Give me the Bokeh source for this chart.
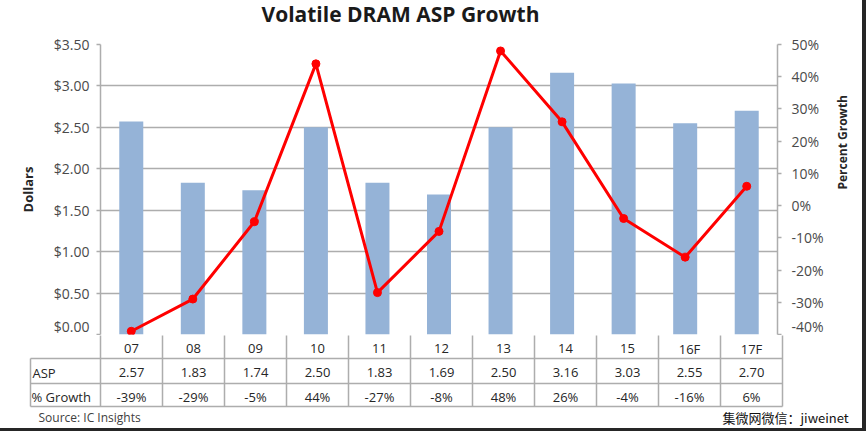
import math
from bokeh.plotting import figure
from bokeh.models import (Range1d, LinearAxis, NumeralTickFormatter, PrintfTickFormatter,
                          FixedTicker, ColumnDataSource, FactorRange)
from bokeh.layouts import column
from bokeh.core.properties import value
from bokeh.embed import file_html
from bokeh.resources import INLINE

# ---------------- data ----------------
title_text = "Volatile DRAM ASP Growth"
years = ["07", "08", "09", "10", "11", "12", "13", "14", "15", "16F", "17F"]
asp = [2.57, 1.83, 1.74, 2.50, 1.83, 1.69, 2.50, 3.16, 3.03, 2.55, 2.70]
growth = [-39, -29, -5, 44, -27, -8, 48, 26, -4, -16, 6]
dollar_ticks = [0.0, 0.5, 1.0, 1.5, 2.0, 2.5, 3.0, 3.5]
pct_ticks = [-40, -30, -20, -10, 0, 10, 20, 30, 40, 50]
row_labels = ["ASP", "% Growth"]

# ---------------- layout constants ----------------
FONT = "Open Sans"
W = 862
HT = 30           # title strip
HA = 335 - HT     # chart
HB = 93           # data table
FL, FR, FT, FB = 100, 782, 44, 334   # frame edges in page pixels
cw = (FR - FL) / len(years)
BAR = "#95b3d7"
RED = "#ff0000"
GRID = "#adadad"
TXT = "#262626"
TICK = "#4a4a4a"


def fx(px):
    return (px - FL) / cw


def strip(height):
    p = figure(x_range=Range1d(fx(0), fx(W)), y_range=Range1d(height, 0),
               width=W, height=height, output_backend="svg", toolbar_location=None,
               x_axis_location=None, y_axis_location=None, min_border=0)
    p.frame_align = False
    p.outline_line_color = None
    p.grid.visible = False
    return p


# ---------------- title strip ----------------
pT = strip(HT)
pT.text(x=[fx(400)], y=[13], text=[title_text], text_font=value(FONT),
        text_font_size="21px", text_font_style="bold", text_color="#1a1a1a",
        text_align="center", text_baseline="middle")

# ---------------- chart ----------------
pA = figure(x_range=FactorRange(*years, range_padding=0), y_range=Range1d(0, 3.5),
            width=W, height=HA, output_backend="svg", toolbar_location=None,
            x_axis_location=None, min_border_left=FL, min_border_right=W - FR,
            min_border_top=FT - HT, min_border_bottom=HT + HA - FB)
pA.frame_align = False
pA.outline_line_color = None
pA.background_fill_color = "white"
pA.border_fill_color = "white"
pA.extra_y_ranges = {"pct": Range1d(-40, 50)}

src = ColumnDataSource(dict(year=years, asp=asp, growth=growth))
pA.vbar(x="year", top="asp", width=0.39, source=src, fill_color=BAR, line_color=None)
pA.line(x="year", y="growth", source=src, y_range_name="pct", line_color=RED, line_width=3)
pA.scatter(x="year", y="growth", source=src, y_range_name="pct", size=8,
           fill_color=RED, line_color=RED)

for g in pA.xgrid:
    g.grid_line_color = None
for g in pA.ygrid:
    g.ticker = FixedTicker(ticks=dollar_ticks)
    g.grid_line_color = GRID
    g.grid_line_width = 1.5

ly = pA.left[0]
ly.ticker = FixedTicker(ticks=dollar_ticks)
ly.formatter = NumeralTickFormatter(format="$0.00")
ly.axis_line_color = GRID
ly.axis_line_width = 1.5
ly.major_tick_line_color = GRID
ly.major_tick_line_width = 1.5
ly.major_tick_in = 0
ly.major_tick_out = 4
ly.minor_tick_line_color = None
ly.major_label_standoff = 7
ly.major_label_text_font = FONT
ly.major_label_text_font_size = "14px"
ly.major_label_text_color = TICK
ly.axis_label = "Dollars"
ly.axis_label_text_font = FONT
ly.axis_label_text_font_size = "13px"
ly.axis_label_text_font_style = "bold"
ly.axis_label_text_color = TXT
ly.axis_label_standoff = 14

ry = LinearAxis(y_range_name="pct", ticker=FixedTicker(ticks=pct_ticks),
                formatter=PrintfTickFormatter(format="%d%%"))
ry.axis_line_color = GRID
ry.axis_line_width = 1.5
ry.major_tick_line_color = GRID
ry.major_tick_line_width = 1.5
ry.major_tick_in = 0
ry.major_tick_out = 4
ry.minor_tick_line_color = None
ry.major_label_standoff = 10
ry.major_label_text_font = FONT
ry.major_label_text_font_size = "14px"
ry.major_label_text_color = TICK
ry.axis_label = "Percent Growth"
ry.axis_label_orientation = math.pi / 2
ry.axis_label_text_align = "center"
ry.axis_label_text_baseline = "middle"
ry.axis_label_text_font = FONT
ry.axis_label_text_font_size = "12px"
ry.axis_label_text_font_style = "bold"
ry.axis_label_text_color = TXT
ry.axis_label_standoff = 16
pA.add_layout(ry, "right")

# ---------------- data table ----------------
pB = strip(HB)

n = len(years)
x_left = fx(30)
r_top, r1, r2, r_bot = -1, 23, 48, 71
vx = list(range(n + 1)) + [x_left]
vy0 = [r_top] * (n + 1) + [r1]
vy1 = [r_bot] * (n + 2)
pB.segment(x0=vx, y0=vy0, x1=vx, y1=vy1, line_color=GRID, line_width=1.5)
pB.segment(x0=[x_left] * 3, y0=[r1, r2, r_bot], x1=[n] * 3, y1=[r1, r2, r_bot],
           line_color=GRID, line_width=1.5)

centers = [i + 0.5 for i in range(n)]
tsrc = ColumnDataSource(dict(x=centers, year=years,
                             asp_t=["%.2f" % a for a in asp],
                             g_t=["%d%%" % g for g in growth]))
common = dict(text_font=value(FONT), text_font_size="13px", text_color=TXT,
              text_align="center", text_baseline="middle")
pB.text(x="x", y=13, text="year", source=tsrc, **common)
pB.text(x="x", y=37, text="asp_t", source=tsrc, **common)
pB.text(x="x", y=61, text="g_t", source=tsrc, **common)
pB.text(x=[fx(32), fx(31)], y=[37, 61], text=row_labels, text_font=value(FONT),
        text_font_size="13px", text_color=TXT, text_align="left", text_baseline="middle")
pB.text(x=[fx(38)], y=[82], text=["Source:  IC Insights"], text_font=value(FONT),
        text_font_size="12px", text_color="#404040", text_align="left", text_baseline="middle")
pB.text(x=[fx(722)], y=[82], text=["集微网微信：jiweinet"], text_font=value("Noto Sans CJK SC"),
        text_font_size="13px", text_color="#111111", text_align="left", text_baseline="middle")

layout = column(pT, pA, pB, spacing=0,
                styles={"border-right": "4px solid #262626",
                        "border-bottom": "3px solid #262626"})

open("out.html", "w").write(file_html(layout, INLINE))
